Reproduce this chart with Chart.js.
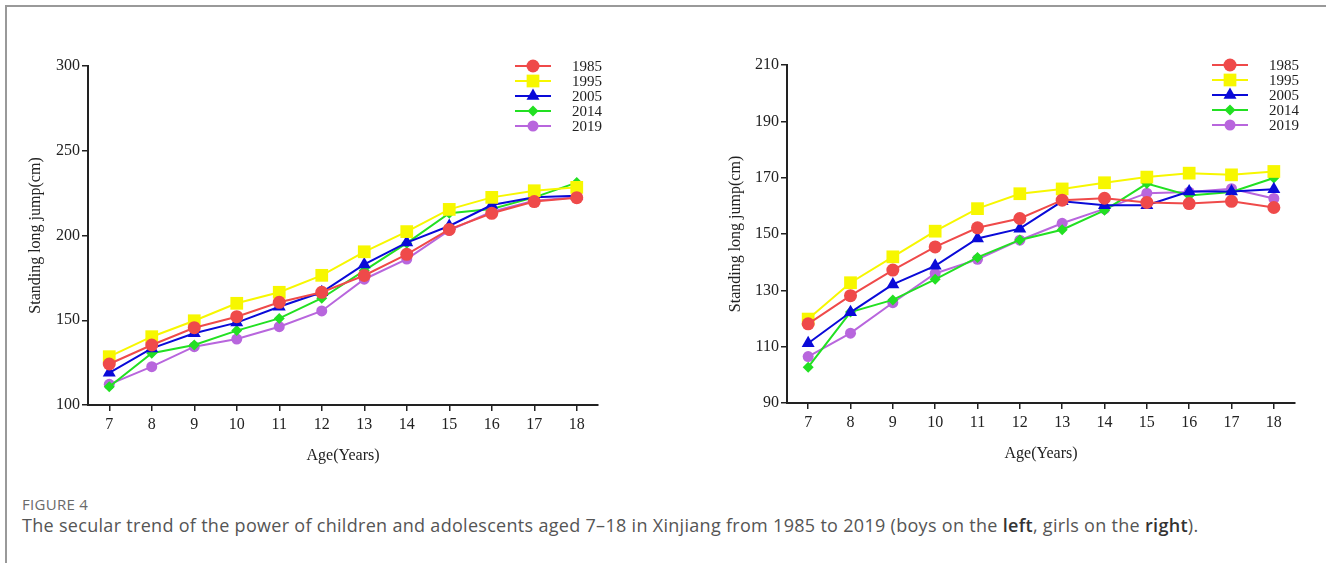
<!DOCTYPE html>
<html>
  <head>
    <meta charset="utf-8">
    <title>Standing long jump</title>
    <script src="https://cdn.jsdelivr.net/npm/chart.js@4.4.1/dist/chart.umd.min.js"></script>
    <style>
      body { margin: 0; background: #fff; width: 1326px; height: 563px; overflow: hidden; position: relative; }
      .frame { position: absolute; left: 5px; top: 5px; right: -5px; bottom: -5px; border-top: 2px solid #999; border-left: 2px solid #999; }
      .box { position: absolute; top: 0; height: 480px; }
      #left { left: 0; width: 650px; }
      #right { left: 650px; width: 676px; }
      .fig { position: absolute; left: 22px; top: 494px; font: 15px "Open Sans", sans-serif; letter-spacing: 0.3px; color: #6a6a6a; }
      .caption { position: absolute; left: 22px; top: 513px; font: 18px "Open Sans", sans-serif; letter-spacing: 0.3px; color: #555; white-space: nowrap; }
      .caption b { color: #333; font-weight: 600; }
    </style>
  </head>
  <body>
    <div class="frame"></div>
    <div class="box" id="left"><canvas id="boysChart" width="650" height="480"></canvas></div>
    <div class="box" id="right"><canvas id="girlsChart" width="676" height="480"></canvas></div>
    <div class="fig">FIGURE 4</div>
    <div class="caption">The secular trend of the power of children and adolescents aged 7–18 in Xinjiang from 1985 to 2019 (boys on the <b>left</b>, girls on the <b>right</b>).</div>

    <script type="text/javascript">
      var ages = ['7', '8', '9', '10', '11', '12', '13', '14', '15', '16', '17', '18'];
      var years = ['1985', '1995', '2005', '2014', '2019'];

      // boys, standing long jump (cm)
      var boys1985 = [124.2, 135.4, 145.6, 152.1, 160.6, 166.5, 176.4, 188.9, 203.6, 213.1, 220.0, 222.3];
      var boys1995 = [128.5, 140.3, 149.7, 160.0, 166.5, 176.5, 190.4, 202.3, 215.4, 222.5, 226.4, 228.4];
      var boys2005 = [119.0, 133.4, 142.3, 148.6, 158.0, 166.5, 182.9, 195.8, 205.6, 218.0, 222.5, 223.5];
      var boys2014 = [110.8, 130.5, 135.4, 143.9, 151.1, 163.0, 179.3, 195.5, 213.1, 215.6, 222.5, 231.2];
      var boys2019 = [112.2, 122.6, 134.4, 138.9, 146.2, 155.5, 174.2, 186.1, 203.0, 214.0, 220.5, 222.5];

      // girls, standing long jump (cm)
      var girls1985 = [118.1, 128.1, 137.2, 145.4, 152.2, 155.5, 162.0, 162.7, 161.2, 160.8, 161.6, 159.4];
      var girls1995 = [119.8, 132.7, 141.9, 151.0, 159.0, 164.3, 166.0, 168.2, 170.2, 171.6, 171.0, 172.2];
      var girls2005 = [111.2, 122.2, 132.1, 138.7, 148.4, 151.9, 161.6, 160.2, 160.2, 165.1, 165.1, 165.9];
      var girls2014 = [102.7, 122.3, 126.6, 133.9, 141.7, 147.9, 151.5, 158.4, 167.9, 163.7, 164.9, 169.9];
      var girls2019 = [106.5, 114.8, 125.6, 136.0, 141.0, 147.8, 153.8, 158.9, 164.5, 164.9, 166.1, 162.6];

      var boysTicks = [100, 150, 200, 250, 300];
      var girlsTicks = [90, 110, 130, 150, 170, 190, 210];

      var styles = [
        { color: '#ef4a4a', pointStyle: 'circle', radius: 6.5 },
        { color: '#f7f700', pointStyle: 'rect', radius: 9 },
        { color: '#0a0ad8', pointStyle: 'triangle', radius: 7.5 },
        { color: '#22e022', pointStyle: 'rectRot', radius: 5.5 },
        { color: '#b866dd', pointStyle: 'circle', radius: 5.5 }
      ];

      var serif = '"Liberation Serif", "Times New Roman", serif';

      function makeDatasets(series) {
        return series.map(function(values, i) {
          var s = styles[i];
          return {
            label: years[i],
            data: values,
            borderColor: s.color,
            backgroundColor: s.color,
            borderWidth: 2,
            pointStyle: s.pointStyle,
            pointRadius: s.radius,
            pointBorderWidth: 0,
            pointBackgroundColor: s.color,
            tension: 0
          };
        });
      }

      // legend drawn as line + marker + label, top right of the plot
      var lineLegend = {
        id: 'lineLegend',
        afterDraw: function(chart, args, opts) {
          var ctx = chart.ctx;
          var area = chart.chartArea;
          var x0 = area.right + opts.dx;
          var y0 = area.top + opts.dy;
          ctx.save();
          chart.data.datasets.forEach(function(ds, i) {
            var y = y0 + i * 15;
            ctx.strokeStyle = ds.borderColor;
            ctx.fillStyle = ds.borderColor;
            ctx.lineWidth = 2;
            ctx.beginPath();
            ctx.moveTo(x0, y);
            ctx.lineTo(x0 + 36, y);
            ctx.stroke();
            Chart.helpers.drawPoint(ctx, {
              pointStyle: ds.pointStyle,
              radius: ds.pointRadius,
              rotation: 0,
              borderWidth: 0
            }, x0 + 18, y);
            ctx.fillStyle = '#222';
            ctx.font = '15px ' + serif;
            ctx.textAlign = 'left';
            ctx.textBaseline = 'middle';
            ctx.fillText(ds.label, x0 + 57, y + 1);
          });
          ctx.restore();
        }
      };

      function makeChart(id, series, tickValues, padding, yWidth) {
        var ctx = document.getElementById(id).getContext('2d');
        return new Chart(ctx, {
          type: 'line',
          data: {
            labels: ages,
            datasets: makeDatasets(series)
          },
          plugins: [lineLegend],
          options: {
            responsive: false,
            animation: false,
            layout: { padding: padding },
            plugins: {
              legend: { display: false },
              tooltip: { enabled: false },
              lineLegend: { dx: -83, dy: 0 }
            },
            scales: {
              x: {
                offset: true,
                grid: { drawOnChartArea: false, drawTicks: true, tickLength: 6, color: '#222', lineWidth: 1.5, offset: false },
                border: { display: true, color: '#222', width: 2 },
                ticks: { color: '#222', font: { family: serif, size: 16 }, padding: 4, maxRotation: 0 },
                title: { display: true, text: 'Age(Years)', color: '#222', font: { family: serif, size: 16 }, padding: { top: 4, bottom: 4 } },
                afterFit: function(scale) { scale.height = 64; }
              },
              y: {
                min: tickValues[0],
                max: tickValues[tickValues.length - 1],
                afterBuildTicks: function(scale) {
                  scale.ticks = tickValues.map(function(v) { return { value: v }; });
                },
                grid: { drawOnChartArea: false, drawTicks: true, tickLength: 6, color: '#222', lineWidth: 1.5 },
                border: { display: true, color: '#222', width: 2 },
                ticks: { color: '#222', font: { family: serif, size: 16 }, padding: 2 },
                title: { display: true, text: 'Standing long jump(cm)', color: '#222', font: { family: serif, size: 16 }, padding: { top: 4, bottom: 4 } },
                afterFit: function(scale) { scale.width = yWidth; }
              }
            }
          }
        });
      }

      makeChart('boysChart', [boys1985, boys1995, boys2005, boys2014, boys2019], boysTicks,
        { left: 22, top: 66, right: 52, bottom: 11 }, 66);
      makeChart('girlsChart', [girls1985, girls1995, girls2005, girls2014, girls2019], girlsTicks,
        { left: 72, top: 65, right: 31, bottom: 13 }, 65);
    </script>
  </body>
</html>
